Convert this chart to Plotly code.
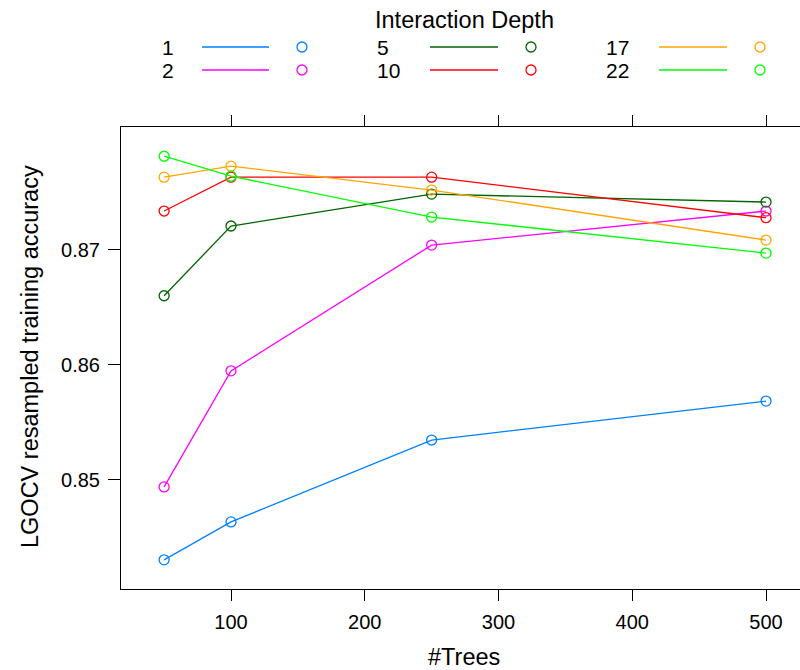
import plotly.graph_objects as go

# ---- data ----
trees = [50, 100, 250, 500]
depths = ["1", "2", "5", "10", "17", "22"]
acc_1 = [0.84306, 0.84636, 0.85347, 0.85685]
acc_2 = [0.84940, 0.85948, 0.87040, 0.87336]
acc_5 = [0.86600, 0.87206, 0.87483, 0.87414]
acc_10 = [0.87336, 0.87630, 0.87630, 0.87278]
acc_17 = [0.87630, 0.87726, 0.87518, 0.87084]
acc_22 = [0.87812, 0.87639, 0.87284, 0.86971]
colors = ["#0080ff", "#ff00ff", "#006400", "#ff0000", "#ffa500", "#00ff00"]
x_ticks = [100, 200, 300, 400, 500]
y_ticks = [0.85, 0.86, 0.87]
y_ticklabels = ["0.85", "0.86", "0.87"]

series = [acc_1, acc_2, acc_5, acc_10, acc_17, acc_22]

W, H = 800, 670
L, T, R, B = 121, 127, 0, 81
PW, PH = W - L - R, H - T - B
FONT = "Liberation Sans, Arial, Helvetica, sans-serif"


def px(xp):
    return (xp - L) / PW


def py(yp):
    return (H - B - yp) / PH


fig = go.Figure()
for name, vals, col in zip(depths, series, colors):
    fig.add_trace(go.Scatter(
        x=trees, y=vals, mode="lines+markers", name=name,
        line=dict(color=col, width=1.3),
        marker=dict(symbol="circle-open", size=10, color=col,
                    line=dict(color=col, width=1.3)),
        showlegend=False, cliponaxis=False,
    ))

# ---- manual lattice-style key ----
shapes = []
annotations = []
col_text_x = [160, 375, 604]
col_line_x = [(202, 269), (430, 498), (659, 727)]
col_circ_x = [302, 531, 760]
row_y = [47, 70]
for i, (name, col) in enumerate(zip(depths, colors)):
    c, r = i // 2, i % 2
    yy = py(row_y[r])
    annotations.append(dict(
        x=px(col_text_x[c]), y=yy, xref="paper", yref="paper",
        text=name, showarrow=False, xanchor="left", yanchor="middle",
        font=dict(family=FONT, size=21, color="black"),
    ))
    shapes.append(dict(
        type="line", xref="paper", yref="paper",
        x0=px(col_line_x[c][0]), x1=px(col_line_x[c][1]), y0=yy, y1=yy,
        line=dict(color=col, width=1.3),
    ))
    shapes.append(dict(
        type="circle", xref="paper", yref="paper",
        xsizemode="pixel", ysizemode="pixel",
        xanchor=px(col_circ_x[c]), yanchor=yy,
        x0=-5, x1=5, y0=-5, y1=5,
        line=dict(color=col, width=1.3),
    ))

annotations.append(dict(
    x=px(464), y=py(20), xref="paper", yref="paper",
    text="Interaction Depth", showarrow=False, xanchor="center", yanchor="middle",
    font=dict(family=FONT, size=23.5, color="black"),
))
annotations.append(dict(
    x=px(464), y=py(657), xref="paper", yref="paper",
    text="#Trees", showarrow=False, xanchor="center", yanchor="middle",
    font=dict(family=FONT, size=23.5, color="black"),
))
annotations.append(dict(
    x=px(30), y=py(357), xref="paper", yref="paper",
    text="LGOCV resampled training accuracy", showarrow=False,
    xanchor="center", yanchor="middle", textangle=-90,
    font=dict(family=FONT, size=23.5, color="black"),
))

fig.update_layout(
    width=W, height=H,
    margin=dict(l=L, r=R, t=T, b=B, pad=0),
    paper_bgcolor="white", plot_bgcolor="white",
    font=dict(family=FONT, size=20, color="black"),
    shapes=shapes, annotations=annotations,
    showlegend=False,
)
fig.update_xaxes(
    range=[17.76, 525.4], tickvals=x_ticks, ticktext=[str(v) for v in x_ticks],
    showgrid=False, zeroline=False, showline=True, mirror="ticks",
    linecolor="black", linewidth=1, ticks="outside", ticklen=11,
    tickcolor="black", tickwidth=1, ticklabelstandoff=4,
    tickfont=dict(family=FONT, size=20, color="black"),
)
fig.update_yaxes(
    range=[0.84053, 0.88066], tickvals=y_ticks, ticktext=y_ticklabels,
    showgrid=False, zeroline=False, showline=True, mirror=False,
    linecolor="black", linewidth=1, ticks="outside", ticklen=12,
    tickcolor="black", tickwidth=1, ticklabelstandoff=4,
    tickfont=dict(family=FONT, size=20, color="black"),
)

fig.write_html("out.html")
